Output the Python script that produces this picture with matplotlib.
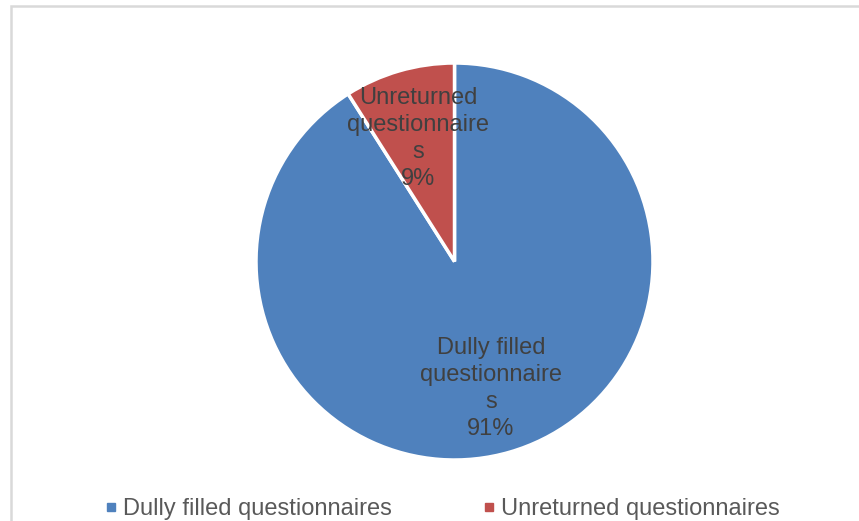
import matplotlib
matplotlib.use("Agg")
import math
import matplotlib.pyplot as plt
from matplotlib.patches import Rectangle
from matplotlib.lines import Line2D

categories = ["Dully filled questionnaires", "Unreturned questionnaires"]
wrapped_labels = ["Dully filled\nquestionnaire\ns", "Unreturned\nquestionnaire\ns"]
values = [91, 9]
colors = ["#4F81BD", "#C0504D"]

plt.rcParams["font.family"] = ["Liberation Sans", "DejaVu Sans"]

W, H = 859, 521
fig = plt.figure(figsize=(W / 100, H / 100), dpi=100)
fig.patch.set_facecolor("white")

cx, cy, r = 454.5, 261.5, 198.5
ax = fig.add_axes([(cx - r) / W, (H - cy - r) / H, 2 * r / W, 2 * r / H])

ax.pie(values, colors=colors, startangle=90, counterclock=False,
       labels=None, radius=1.0,
       wedgeprops=dict(edgecolor="white", linewidth=2.5))
total = sum(values)
ang = 90.0
for i, v in enumerate(values):
    span = 360.0 * v / total
    mid = math.radians(ang - span / 2)
    ang -= span
    ax.text(0.655 * math.cos(mid), 0.655 * math.sin(mid) - 0.01,
            f"{wrapped_labels[i]}\n{100 * v / total:.0f}%",
            ha="center", va="center", fontsize=17, color="#404040",
            linespacing=1.3)
ax.set_xlim(-1, 1)
ax.set_ylim(-1, 1)
ax.set_aspect("equal")
ax.axis("off")

handles = [Line2D([0], [0], marker="s", linestyle="none", markersize=6,
                  markerfacecolor=c, markeredgecolor=c) for c in colors]
fig.legend(handles, categories, loc="center", bbox_to_anchor=(0.515, 0.023),
           ncol=2, frameon=False, fontsize=17, labelcolor="#595959",
           handlelength=0.5, handletextpad=0.25, columnspacing=3.9)

fig.add_artist(Rectangle((10.5 / W, -0.1), 2.0, (H - 5.5) / H + 0.1,
                         transform=fig.transFigure, fill=False,
                         edgecolor="#D9D9D9", linewidth=1.8))

fig.savefig("out.png", dpi=100)
